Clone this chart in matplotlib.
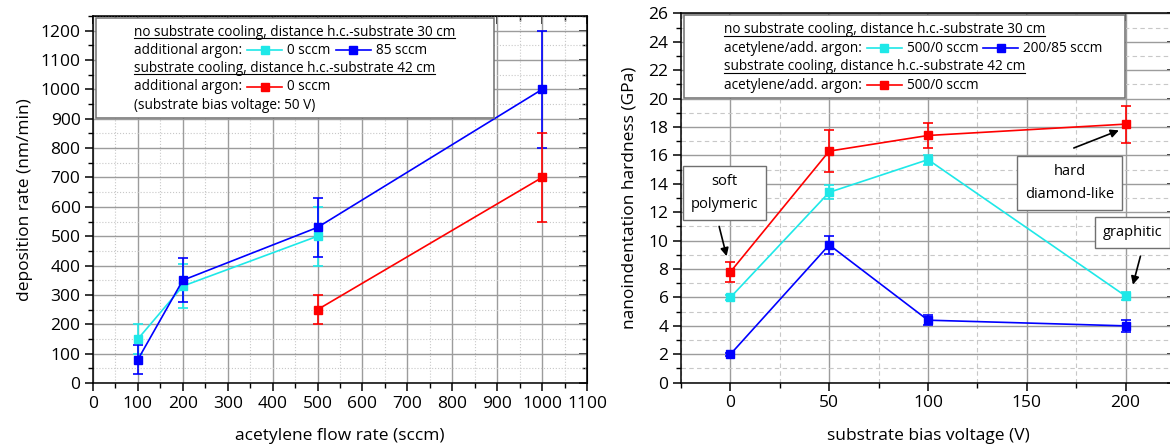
import matplotlib
matplotlib.use('Agg')
import matplotlib.pyplot as plt
from matplotlib.lines import Line2D
from matplotlib.patches import Rectangle
from matplotlib.ticker import MultipleLocator

plt.rcParams['font.family'] = ['Open Sans', 'DejaVu Sans']

# left panel: deposition rate vs acetylene flow
flow_0 = [100, 200, 500]
rate_0 = [150, 330, 500]
rate_0_err = [50, 75, 100]
flow_85 = [100, 200, 500, 1000]
rate_85 = [80, 350, 530, 1000]
rate_85_err = [50, 75, 100, 200]
flow_cool = [500, 1000]
rate_cool = [250, 700]
rate_cool_err = [50, 150]

# right panel: hardness vs bias voltage
bias = [0, 50, 100, 200]
hard_500 = [6.0, 13.4, 15.7, 6.1]
hard_500_err = [0.2, 0.5, 0.35, 0.25]
hard_200 = [2.0, 9.7, 4.4, 4.0]
hard_200_err = [0.1, 0.65, 0.35, 0.4]
hard_cool = [7.8, 16.3, 17.4, 18.2]
hard_cool_err = [0.7, 1.5, 0.9, 1.3]

CYAN = '#1ee8e8'
BLUE = '#0000ff'
RED = '#ff0000'
BOXEDGE = '#707070'

fig = plt.figure(figsize=(11.7, 4.48), dpi=100)
ax1 = fig.add_axes([93/1170, 1-383/448, 494/1170, 367/448])
ax2 = fig.add_axes([681/1170, 1-382.7/448, 494/1170, 369.4/448])


def style(ax, xmaj, xmin, ymaj, ymin, minor_ls, minor_col):
    ax.xaxis.set_major_locator(MultipleLocator(xmaj))
    ax.xaxis.set_minor_locator(MultipleLocator(xmin))
    ax.yaxis.set_major_locator(MultipleLocator(ymaj))
    ax.yaxis.set_minor_locator(MultipleLocator(ymin))
    ax.set_axisbelow(True)
    ax.grid(which='major', color='#9c9c9c', lw=1.0)
    ax.grid(which='minor', color=minor_col, lw=0.8, ls=minor_ls)
    for s in ax.spines.values():
        s.set_linewidth(1.1)
    ax.tick_params(which='major', direction='out', length=6, width=1.1,
                   labelsize=12.5, pad=3)
    ax.tick_params(which='minor', direction='out', length=3.5, width=1.0)
    top = ax.secondary_xaxis('top')
    top.xaxis.set_major_locator(MultipleLocator(xmaj))
    top.xaxis.set_minor_locator(MultipleLocator(xmin))
    top.tick_params(which='major', direction='in', length=6, width=1.1, labeltop=False)
    top.tick_params(which='minor', direction='in', length=3.5, width=1.0)
    right = ax.secondary_yaxis('right')
    right.yaxis.set_major_locator(MultipleLocator(ymaj))
    right.yaxis.set_minor_locator(MultipleLocator(ymin))
    right.tick_params(which='major', direction='in', length=6, width=1.1, labelright=False)
    right.tick_params(which='minor', direction='in', length=3.5, width=1.0)


ekw = dict(marker='s', ms=6, lw=1.2, elinewidth=1.2, capsize=3.6, capthick=1.2, zorder=3)

ax1.errorbar(flow_0, rate_0, yerr=rate_0_err, color=CYAN, **ekw)
ax1.errorbar(flow_85, rate_85, yerr=rate_85_err, color=BLUE, **ekw)
ax1.errorbar(flow_cool, rate_cool, yerr=rate_cool_err, color=RED, **ekw)
ax1.set_xlim(0, 1100)
ax1.set_ylim(0, 1250)
style(ax1, 100, 50, 100, 50, ':', '#c8c8c8')
ax1.set_xlabel('acetylene flow rate (sccm)', fontsize=12.5)
ax1.set_ylabel('deposition rate (nm/min)', fontsize=12.5)
ax1.xaxis.set_label_coords(0.5, -0.123)
ax1.yaxis.set_label_coords(-0.122, 0.5)

ax2.errorbar(bias, hard_500, yerr=hard_500_err, color=CYAN, **ekw)
ax2.errorbar(bias, hard_200, yerr=hard_200_err, color=BLUE, **ekw)
ax2.errorbar(bias, hard_cool, yerr=hard_cool_err, color=RED, **ekw)
ax2.set_xlim(-25, 225)
ax2.set_ylim(0, 26)
style(ax2, 50, 25, 2, 1, (0, (4, 3)), '#c8c8c8')
ax2.set_xlabel('substrate bias voltage (V)', fontsize=12.5)
ax2.set_ylabel('nanoindentation hardness (GPa)', fontsize=12.5)
ax2.xaxis.set_label_coords(0.5, -0.123)
ax2.yaxis.set_label_coords(-0.089, 0.5)

# annotation boxes
bkw = dict(boxstyle='square,pad=0.55', fc='white', ec=BOXEDGE, lw=1.0)
akw = dict(arrowstyle='-|>', color='black', lw=1.2, mutation_scale=12,
           shrinkA=0, shrinkB=0)
ax2.text(-2.9, 13.35, 'soft\npolymeric', ha='center', va='center', fontsize=10.5,
         linespacing=1.75, bbox=bkw, zorder=5)
ax2.annotate('', xy=(-1.9, 8.9), xytext=(-5.7, 11.0), arrowprops=akw, zorder=5)
ax2.text(171.7, 14.08, 'hard\ndiamond-like', ha='center', va='center', fontsize=10.5,
         linespacing=1.75, bbox=bkw, zorder=5)
ax2.annotate('', xy=(196.6, 17.76), xytext=(173.8, 16.52), arrowprops=akw, zorder=5)
ax2.text(203.5, 10.6, 'graphitic', ha='center', va='center', fontsize=10.5,
         bbox=bkw, zorder=5)
ax2.annotate('', xy=(203.7, 6.9), xytext=(207.5, 8.9), arrowprops=akw, zorder=5)

# legend boxes drawn by hand
ax1.add_patch(Rectangle((0.006, 0.722), 0.806, 0.273, transform=ax1.transAxes,
                        fc='white', ec=BOXEDGE, lw=1.1, zorder=4))
ax2.add_patch(Rectangle((0.0064, 0.771), 0.8916, 0.224, transform=ax2.transAxes,
                        fc='white', ec=BOXEDGE, lw=1.1, zorder=4))

fig.canvas.draw()
rend = fig.canvas.get_renderer()
LFS = 9.8


def legend_row(ax, x, y, items, underline=False):
    w = ax.bbox.width
    for it in items:
        if isinstance(it, tuple):
            color = it[0]
            ln = 35 / w
            ax.add_line(Line2D([x, x + ln], [y, y], transform=ax.transAxes,
                               color=color, lw=1.2, zorder=6))
            ax.add_line(Line2D([x + ln / 2], [y], transform=ax.transAxes,
                               color=color, marker='s', ms=6, zorder=6))
            x += ln + 5 / w
        else:
            t = ax.text(x, y, it, transform=ax.transAxes, fontsize=LFS,
                        ha='left', va='center', zorder=6)
            bb = t.get_window_extent(rend)
            if underline:
                inv = ax.transAxes.inverted()
                x0, yu = inv.transform((bb.x0, bb.y0 + 1.5))
                x1, _ = inv.transform((bb.x1, bb.y0 + 1.5))
                ax.add_line(Line2D([x0, x1], [yu, yu], transform=ax.transAxes,
                                   color='black', lw=0.8, zorder=6))
            x += (bb.width + 5) / w


legend_row(ax1, 0.083, 0.956, ['no substrate cooling, distance h.c.-substrate 30 cm'], True)
legend_row(ax1, 0.083, 0.907, ['additional argon:', (CYAN,), '0 sccm', (BLUE,), '85 sccm'])
legend_row(ax1, 0.083, 0.858, ['substrate cooling, distance h.c.-substrate 42 cm'], True)
legend_row(ax1, 0.083, 0.807, ['additional argon:', (RED,), '0 sccm'])
legend_row(ax1, 0.083, 0.755, ['(substrate bias voltage: 50 V)'])

legend_row(ax2, 0.0864, 0.955, ['no substrate cooling, distance h.c.-substrate 30 cm'], True)
legend_row(ax2, 0.0864, 0.905, ['acetylene/add. argon:', (CYAN,), '500/0 sccm',
                                (BLUE,), '200/85 sccm'])
legend_row(ax2, 0.0864, 0.855, ['substrate cooling, distance h.c.-substrate 42 cm'], True)
legend_row(ax2, 0.0864, 0.805, ['acetylene/add. argon:', (RED,), '500/0 sccm'])

fig.savefig('out.png', dpi=100)
